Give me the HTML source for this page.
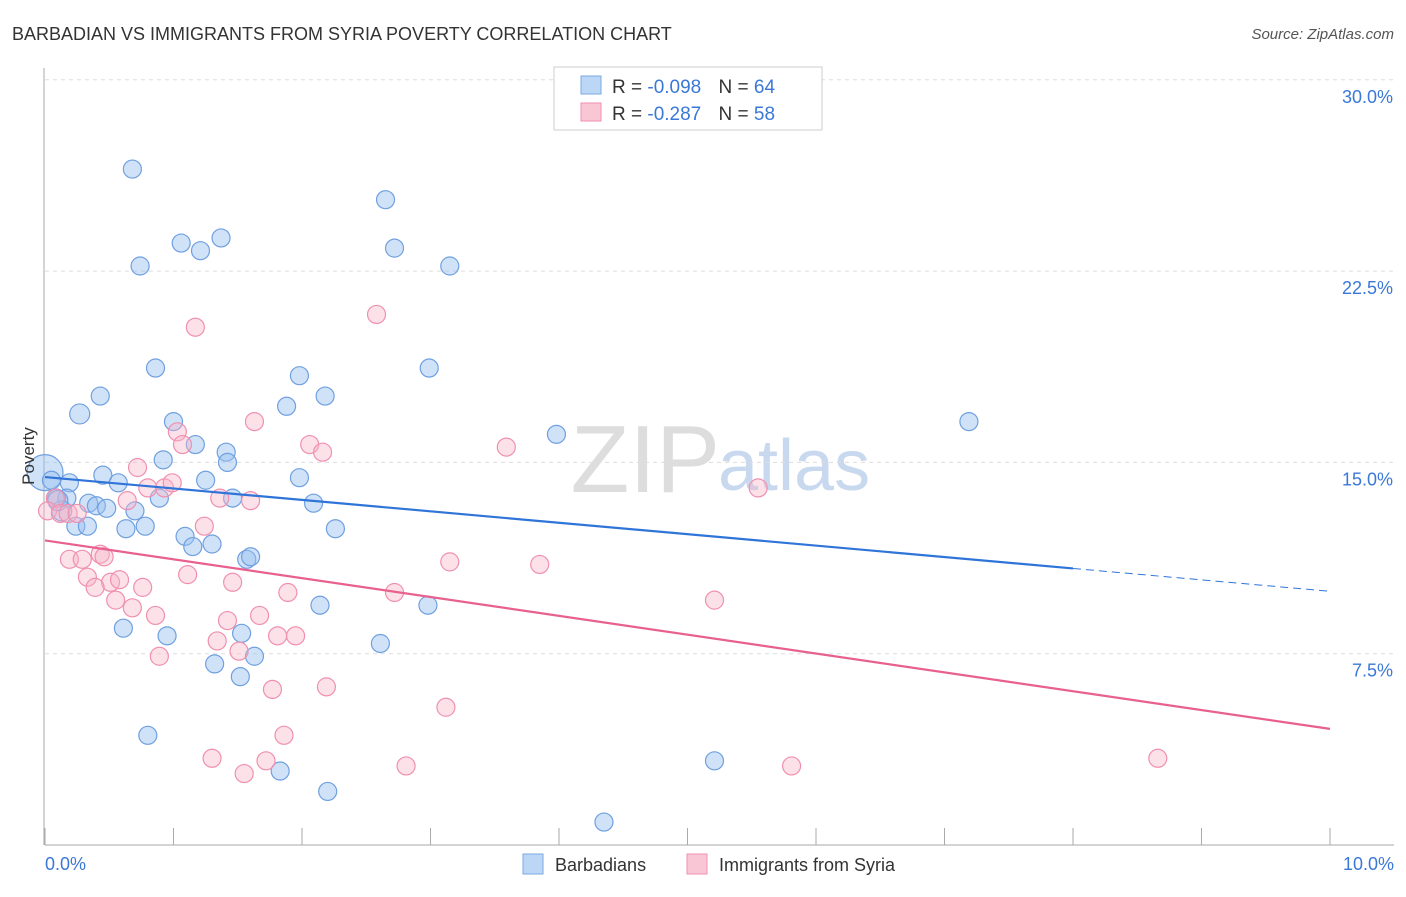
<!DOCTYPE html>
<html><head><meta charset="utf-8"><style>
body{margin:0;background:#fff;font-family:"Liberation Sans",sans-serif;}
svg text{font-family:"Liberation Sans",sans-serif;}
</style></head><body>
<svg id="chart" width="1406" height="892" xmlns="http://www.w3.org/2000/svg">
<text x="12" y="40" font-size="18" fill="#333">BARBADIAN VS IMMIGRANTS FROM SYRIA POVERTY CORRELATION CHART</text>
<text x="1394" y="39" font-size="15" fill="#555" font-style="italic" text-anchor="end">Source: ZipAtlas.com</text>
<text x="720" y="492" font-size="96" fill="#ddd" font-family="Liberation Serif" text-anchor="end">ZIP</text>
<text x="718" y="490" font-size="72" fill="#c8d8ee">atlas</text>
<g id="grid"></g><g id="axes"></g><g id="pts"></g><g id="lines"></g>
<text x="34" y="456" font-size="17" fill="#333" transform="rotate(-90 34 456)" text-anchor="middle">Poverty</text>
<text x="45" y="870" font-size="18" fill="#3a78d8">0.0%</text>
<text x="1394" y="870" font-size="18" fill="#3a78d8" text-anchor="end">10.0%</text>
<g>
<rect x="554" y="67" width="268" height="63" fill="#fff" stroke="#ccc"/>
<rect x="581" y="76" width="20" height="18" fill="#bcd6f6" stroke="#7aaae0"/>
<rect x="581" y="103" width="20" height="18" fill="#f9c6d6" stroke="#f090b0"/>
<text x="612" y="93" font-size="19" fill="#333">R = <tspan fill="#3a78d8">-0.098</tspan>  <tspan dx="12">N = </tspan><tspan fill="#3a78d8">64</tspan></text>
<text x="612" y="120" font-size="19" fill="#333">R =  <tspan fill="#3a78d8">-0.287</tspan>  <tspan dx="12">N = </tspan><tspan fill="#3a78d8">58</tspan></text>
</g>
<g>
<rect x="523" y="854" width="20" height="20" fill="#bcd6f6" stroke="#7aaae0"/>
<text x="555" y="871" font-size="18" fill="#333">Barbadians</text>
<rect x="687" y="854" width="20" height="20" fill="#f9c6d6" stroke="#f090b0"/>
<text x="719" y="871" font-size="18" fill="#333">Immigrants from Syria</text>
</g>
</svg>
<script>
const yTicks=[7.5,15,22.5,30];
const yTickLabels=["7.5%","15.0%","22.5%","30.0%"];
const xTicks=[0,1,2,3,4,5,6,7,8,9,10];
const blueX=[0.68,0.74,1.06,1.21,1.37,2.65,2.72,3.15,0.86,2.99,0.43,0.27,1.00,1.88,1.98,2.18,1.17,1.41,1.42,0.92,3.98,7.19,0.0,0.05,0.19,0.45,0.57,1.25,1.98,0.09,0.17,0.34,0.40,0.48,0.70,0.89,1.46,2.09,0.24,0.33,0.63,0.78,1.09,1.15,1.30,1.57,1.60,2.26,2.14,2.98,0.61,0.95,1.53,1.32,1.63,1.52,2.61,0.80,1.83,2.20,5.21,4.35,0.13,0.10];
const blueY=[26.5,22.7,23.6,23.3,23.8,25.3,23.4,22.7,18.7,18.7,17.6,16.9,16.6,17.2,18.4,17.6,15.7,15.4,15.0,15.1,16.1,16.6,14.6,14.3,14.2,14.5,14.2,14.3,14.4,13.6,13.6,13.4,13.3,13.2,13.1,13.6,13.6,13.4,12.5,12.5,12.4,12.5,12.1,11.7,11.8,11.2,11.3,12.4,9.4,9.4,8.5,8.2,8.3,7.1,7.4,6.6,7.9,4.3,2.9,2.1,3.3,0.9,13.1,13.5];
const blueR=[9,9,9,9,9,9,9,9,9,9,9,10,9,9,9,9,9,9,9,9,9,9,18,9,9,9,9,9,9,9,9,9,9,9,9,9,9,9,9,9,9,9,9,9,9,9,9,9,9,9,9,9,9,9,9,9,9,9,9,9,9,9,10,10];
const pinkX=[1.17,2.58,1.63,1.03,1.07,2.06,2.16,3.59,0.72,0.80,0.93,0.99,1.36,1.60,0.64,5.55,0.08,0.02,0.12,0.18,0.25,1.24,0.19,0.29,0.43,0.46,3.15,3.85,0.33,0.51,0.58,1.11,1.46,0.39,0.76,1.89,2.72,0.55,0.68,0.86,1.42,1.67,5.21,1.34,1.81,1.95,1.51,0.89,1.77,2.19,3.12,1.86,1.30,1.55,1.72,2.81,5.81,8.66];
const pinkY=[20.3,20.8,16.6,16.2,15.7,15.7,15.4,15.6,14.8,14.0,14.0,14.2,13.6,13.5,13.5,14.0,13.6,13.1,13.0,13.0,13.0,12.5,11.2,11.2,11.4,11.3,11.1,11.0,10.5,10.3,10.4,10.6,10.3,10.1,10.1,9.9,9.9,9.6,9.3,9.0,8.8,9.0,9.6,8.0,8.2,8.2,7.6,7.4,6.1,6.2,5.4,4.3,3.4,2.8,3.3,3.1,3.1,3.4];
const X0=45,X1=1330,Y0=845,PX=191.3/7.5;
const sx=v=>X0+(X1-X0)*v/10, sy=v=>Y0-v*PX;
const NS="http://www.w3.org/2000/svg";
function mk(t,p,a){const e=document.createElementNS(NS,t);for(const k in a)e.setAttribute(k,a[k]);p.appendChild(e);return e;}
const grid=document.getElementById('grid'),axes=document.getElementById('axes'),pts=document.getElementById('pts'),lines=document.getElementById('lines');
yTicks.forEach((t,i)=>{
 const l=mk('line',grid,{x1:45,x2:1394,y1:sy(t),y2:sy(t),stroke:'#ddd','stroke-dasharray':'4,4'});
 
 
 const tx=mk('text',grid,{x:1393,y:sy(t)+23,'font-size':18,fill:'#3a78d8','text-anchor':'end'});
 tx.textContent=yTickLabels[i];
 
 
});
const ax=mk('line',axes,{x1:45,x2:1394,y1:Y0,y2:Y0,stroke:'#aaa'});


const ay=mk('line',axes,{x1:44,x2:44,y1:68,y2:Y0,stroke:'#aaa'});


xTicks.forEach(t=>{
 const l=mk('line',axes,{x1:sx(t),x2:sx(t),y1:Y0,y2:Y0-17,stroke:'#aaa'});
 
 
});
blueX.forEach((x,i)=>{
 const c=mk('circle',pts,{cx:sx(x),cy:sy(blueY[i]),r:blueR[i],fill:'rgba(150,190,240,0.45)',stroke:'#6fa0e0','stroke-width':1.2});
 
 
});
pinkX.forEach((x,i)=>{
 const c=mk('circle',pts,{cx:sx(x),cy:sy(pinkY[i]),r:9,fill:'rgba(248,180,200,0.4)',stroke:'#f090b0','stroke-width':1.2});
 
 
});
function fit(xs,ys){const n=xs.length;let mx=0,my=0;xs.forEach((x,i)=>{mx+=x;my+=ys[i];});mx/=n;my/=n;let a=0,b=0;xs.forEach((x,i)=>{a+=(x-mx)*(ys[i]-my);b+=(x-mx)**2;});const s=a/b;return [my-s*mx,s];}
const [bb,bs]=fit(blueX,blueY),[pb,ps]=fit(pinkX,pinkY);
const bl=mk('line',lines,{x1:sx(0),y1:sy(bb),x2:sx(8),y2:sy(bb+bs*8),stroke:'#2f74d8','stroke-width':2.2});


const bd=mk('line',lines,{x1:sx(8),y1:sy(bb+bs*8),x2:sx(10),y2:sy(bb+bs*10),stroke:'#2f74d8','stroke-width':1,'stroke-dasharray':'8,5'});


const pl=mk('line',lines,{x1:sx(0),y1:sy(pb),x2:sx(10),y2:sy(pb+ps*10),stroke:'#e8608e','stroke-width':2.2});


</script>
</body></html>
